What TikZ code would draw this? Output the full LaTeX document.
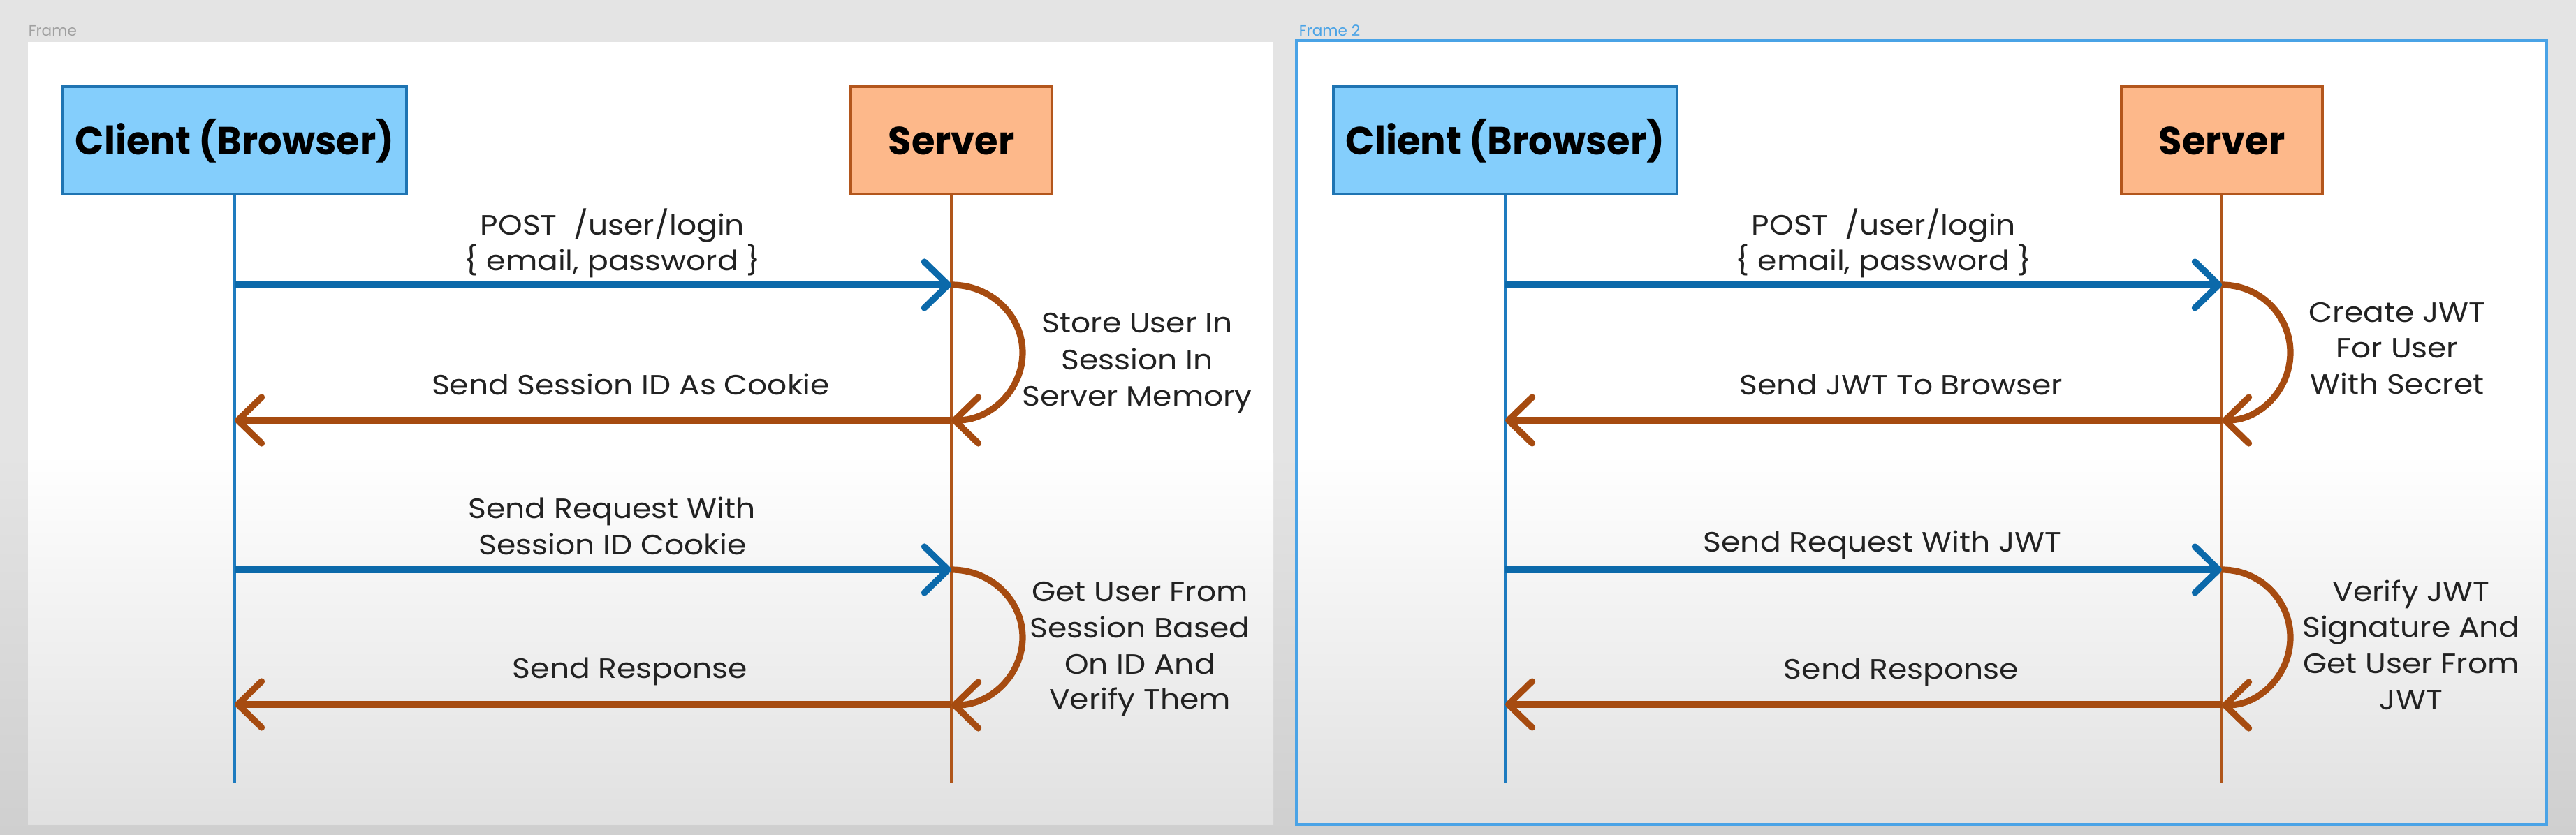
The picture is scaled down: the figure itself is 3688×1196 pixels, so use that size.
\documentclass[tikz,border=0pt]{standalone}
\usepackage{fontspec}
\setmainfont{Poppins}
\newfontfamily\lblfont[FakeStretch=1.1]{Poppins}
\newfontfamily\ttlfont[FakeStretch=0.97]{Poppins}
\usetikzlibrary{arrows.meta}
\definecolor{bgc}{HTML}{E4E4E4}
\definecolor{bgdark}{HTML}{CFCFCF}
\definecolor{framelbl}{HTML}{A0A0A0}
\definecolor{frameblue}{HTML}{4AA3E6}
\definecolor{clientfill}{HTML}{84CEFC}
\definecolor{clientdraw}{HTML}{1F74B2}
\definecolor{serverfill}{HTML}{FDB88A}
\definecolor{serverdraw}{HTML}{B3561C}
\definecolor{bluearr}{HTML}{0B69AA}
\definecolor{brownarr}{HTML}{A64B10}
\definecolor{lifeblue}{HTML}{1E7BBF}
\definecolor{lifebrown}{HTML}{B0561A}
\definecolor{txt}{HTML}{222222}
\tikzset{
  actor/.style={line width=1pt, inner sep=0pt, text=black,
    font=\ttlfont\bfseries\fontsize{14}{16}\selectfont, text height=9.8pt, text depth=0pt,
    minimum height=38.5pt},
  cbox/.style={actor, draw=clientdraw, fill=clientfill, minimum width=123pt},
  sbox/.style={actor, draw=serverdraw, fill=serverfill, minimum width=72pt},
  lifeC/.style={draw=lifeblue, line width=0.9pt},
  lifeS/.style={draw=lifebrown, line width=0.9pt},
  msg/.style={line width=2.3pt, -{Straight Barb[length=8.5pt,width=16.5pt,round]}},
  req/.style={msg, draw=bluearr},
  resp/.style={msg, draw=brownarr},
  lbl/.style={font=\lblfont\fontsize{10}{12}\selectfont, text=txt, inner sep=0pt, anchor=base},
  framelabel/.style={font=\fontsize{5.4}{6}\selectfont, inner sep=0pt, anchor=base west},
}
\begin{document}
\begin{tikzpicture}[x=0.25pt,y=-0.25pt]
\useasboundingbox (0,0) rectangle (3688,1196);
% background
\fill[bgc] (0,0) rectangle (3688,1196);
\shade[top color=bgc, bottom color=bgdark] (0,650) rectangle (3688,1196);
% frames
\fill[white] (40,60) rectangle (1823,1181);
\shade[top color=white, bottom color=gray!24] (40,650) rectangle (1823,1181);
\fill[white] (1856,58) rectangle (3646,1181);
\shade[top color=white, bottom color=gray!24] (1856,650) rectangle (3646,1181);
\draw[frameblue, line width=1pt] (1856,58) rectangle (3646,1181);
\node[framelabel, text=framelbl] (f1lbl) at (40,52) {Frame};
\node[framelabel, text=frameblue] (f2lbl) at (1859,52) {Frame 2};

% message levels
\coordinate (L1) at (0,408);
\coordinate (L2) at (0,602);
\coordinate (L3) at (0,816);
\coordinate (L4) at (0,1009);
\coordinate (Lend) at (0,1121);

% ===== Frame 1 : sessions =====
\node[cbox] (cl1) at (336,201.5) {Client (Browser)};
\node[sbox] (sv1) at (1362,201.5) {Server};
\draw[lifeC] (cl1.south) -- (cl1.south |- Lend);
\draw[lifeS] (sv1.south) -- (sv1.south |- Lend);

\draw[req] (cl1.south |- L1) -- (sv1.south |- L1);
\draw[resp] (sv1.south |- L2) -- (cl1.south |- L2);
\draw[resp] (sv1.south |- L1) arc[start angle=90, end angle=-90, x radius=25.5pt, y radius=24.25pt];
\draw[req] (cl1.south |- L3) -- (sv1.south |- L3);
\draw[resp] (sv1.south |- L4) -- (cl1.south |- L4);
\draw[resp] (sv1.south |- L3) arc[start angle=90, end angle=-90, x radius=25.5pt, y radius=24.25pt];

\node[lbl] (a1l1) at (877,337) {POST\hspace{6pt}/user/login};
\node[lbl] (a1l2) at (877,388) {\{ email, password \}};
\node[lbl] (a2l1) at (903,566) {Send Session ID As Cookie};
\node[lbl] (p1l1) at (1628,477) {Store User In};
\node[lbl] (p1l2) at (1628,530) {Session In};
\node[lbl] (p1l3) at (1628,582) {Server Memory};
\node[lbl] (a3l1) at (876,743) {Send Request With};
\node[lbl] (a3l2) at (877,795) {Session ID Cookie};
\node[lbl] (a4l1) at (902,972) {Send Response};
\node[lbl] (p2l1) at (1632,862) {Get User From};
\node[lbl] (p2l2) at (1632,914) {Session Based};
\node[lbl] (p2l3) at (1632,966) {On ID And};
\node[lbl] (p2l4) at (1632,1016) {Verify Them};

% ===== Frame 2 : JWT =====
\node[cbox] (cl2) at (2155,201.5) {Client (Browser)};
\node[sbox] (sv2) at (3181,201.5) {Server};
\draw[lifeC] (cl2.south) -- (cl2.south |- Lend);
\draw[lifeS] (sv2.south) -- (sv2.south |- Lend);

\draw[req] (cl2.south |- L1) -- (sv2.south |- L1);
\draw[resp] (sv2.south |- L2) -- (cl2.south |- L2);
\draw[resp] (sv2.south |- L1) arc[start angle=90, end angle=-90, x radius=24.5pt, y radius=24.25pt];
\draw[req] (cl2.south |- L3) -- (sv2.south |- L3);
\draw[resp] (sv2.south |- L4) -- (cl2.south |- L4);
\draw[resp] (sv2.south |- L3) arc[start angle=90, end angle=-90, x radius=24.5pt, y radius=24.25pt];

\node[lbl] (b1l1) at (2697,337) {POST\hspace{6pt}/user/login};
\node[lbl] (b1l2) at (2697,388) {\{ email, password \}};
\node[lbl] (b2l1) at (2722,566) {Send JWT To Browser};
\node[lbl] (q1l1) at (3432,462) {Create JWT};
\node[lbl] (q1l2) at (3432,513) {For User};
\node[lbl] (q1l3) at (3432,565) {With Secret};
\node[lbl] (b3l1) at (2695,791) {Send Request With JWT};
\node[lbl] (b4l1) at (2722,973) {Send Response};
\node[lbl] (q2l1) at (3452,862) {Verify JWT};
\node[lbl] (q2l2) at (3452,913) {Signature And};
\node[lbl] (q2l3) at (3452,965) {Get User From};
\node[lbl] (q2l4) at (3452,1017) {JWT};
\end{tikzpicture}
\end{document}
